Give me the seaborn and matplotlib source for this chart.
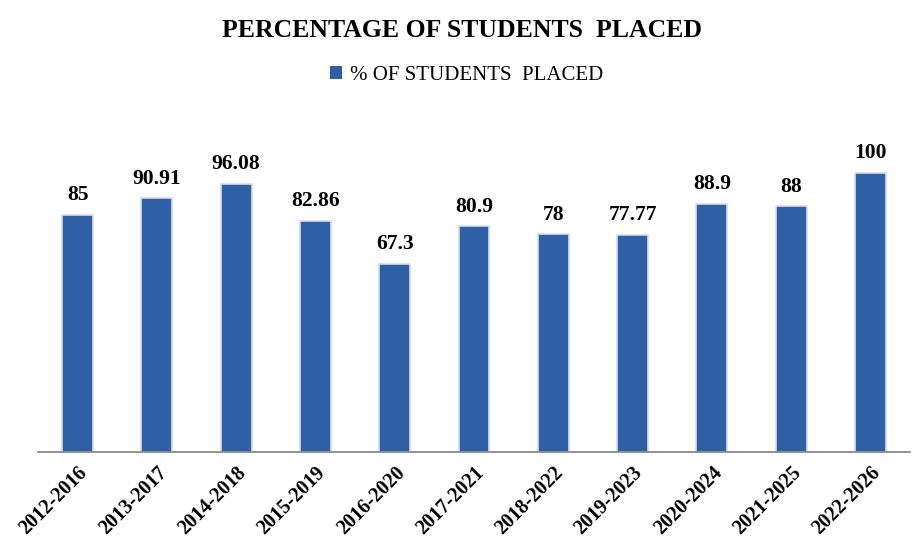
import pandas as pd
import numpy as np
import seaborn as sns
import matplotlib.pyplot as plt
from matplotlib.patches import Patch

batches = ['2012-2016', '2013-2017', '2014-2018', '2015-2019', '2016-2020',
           '2017-2021', '2018-2022', '2019-2023', '2020-2024', '2021-2025', '2022-2026']
placed = [85, 90.91, 96.08, 82.86, 67.3, 80.9, 78, 77.77, 88.9, 88, 100]
labels = ['85', '90.91', '96.08', '82.86', '67.3', '80.9', '78', '77.77', '88.9', '88', '100']

df = pd.DataFrame({'batch': batches, 'placed': placed})

sns.set_style('white')
plt.rcParams['font.family'] = ['Liberation Serif', 'DejaVu Serif']
plt.rcParams['text.color'] = 'black'
plt.rcParams['xtick.color'] = 'black'

bar_color = '#2F5FA5'

fig = plt.figure(figsize=(9.24, 5.58), dpi=100)
ax = fig.add_axes([0.041, 0.19, 0.944, 0.60])

sns.barplot(data=df, x='batch', y='placed', color=bar_color, width=0.39,
            saturation=1, ax=ax)
for p in ax.patches:
    p.set_edgecolor('#D8DCE6')
    p.set_linewidth(1.2)

for i, (v, t) in enumerate(zip(placed, labels)):
    ax.text(i, v + 3.5, t, ha='center', va='bottom', fontsize=15.5,
            fontweight='bold', color='black')

ax.set_xlim(-0.5, 10.5)
ax.set_ylim(0, 120)
ax.set_xlabel('')
ax.set_ylabel('')
ax.set_yticks([])
for s in ['top', 'right', 'left']:
    ax.spines[s].set_visible(False)
ax.spines['bottom'].set_color('#808080')
ax.spines['bottom'].set_linewidth(1.2)

ax.tick_params(axis='x', length=0, pad=8)
ax.set_xticks(range(len(batches)))
ax.set_xticklabels(batches, rotation=45, ha='right', rotation_mode='anchor',
                   fontsize=14.5, fontweight='bold', color='black')

fig.text(0.5, 0.945, 'PERCENTAGE OF STUDENTS  PLACED', ha='center', va='center',
         fontsize=18.5, fontweight='bold', color='black')

handle = Patch(facecolor=bar_color, edgecolor='none')
leg = fig.legend([handle], ['% OF STUDENTS  PLACED'], loc='center', bbox_to_anchor=(0.505, 0.865),
                 frameon=False, fontsize=15, handlelength=0.6, handleheight=0.6, handletextpad=0.4)
for t in leg.get_texts():
    t.set_color('black')

fig.savefig('out.png', dpi=100)
